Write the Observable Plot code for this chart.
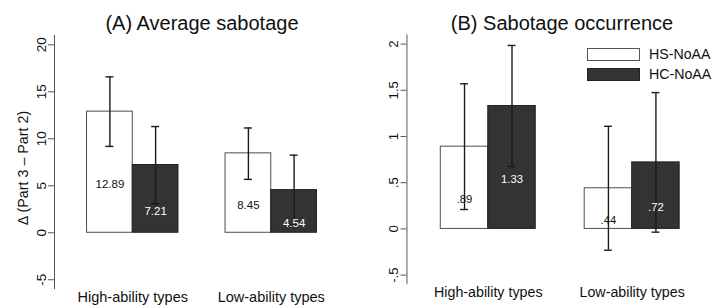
<!DOCTYPE html>
<html><head><meta charset="utf-8">
<script src="https://cdn.jsdelivr.net/npm/d3@7"></script>
<script src="https://cdn.jsdelivr.net/npm/@observablehq/plot@0.6"></script>
<style>
html,body{margin:0;padding:0;background:#fff;overflow:hidden;}
#wrap{position:relative;width:713px;height:307px;overflow:hidden;font-family:"Liberation Sans",Arial,Helvetica,sans-serif;color:#111;}
.panel{position:absolute;top:0;}
.title{position:absolute;top:13px;font-size:20px;line-height:20px;white-space:nowrap;transform:translateX(-50%);}
.ylab{position:absolute;font-size:14.3px;line-height:16px;white-space:nowrap;transform:translate(-50%,-50%) rotate(-90deg);}
.leg{position:absolute;left:587px;width:53px;height:13px;box-sizing:border-box;}
.legt{position:absolute;left:649px;font-size:14.2px;line-height:16px;white-space:nowrap;}
</style></head>
<body><div id="wrap"></div>
<script>
const categories = ["High-ability types", "Low-ability types"];
const series = ["HS-NoAA", "HC-NoAA"];
// order: High/HS, High/HC, Low/HS, Low/HC
const avgMean = [12.89, 7.21, 8.45, 4.54];
const avgLo = [9.19, 3.08, 5.68, 0.82];
const avgHi = [16.59, 11.30, 11.15, 8.26];
const avgLabels = ["12.89", "7.21", "8.45", "4.54"];
const occMean = [0.89, 1.33, 0.44, 0.72];
const occLo = [0.21, 0.675, -0.23, -0.035];
const occHi = [1.57, 1.985, 1.11, 1.475];
const occLabels = [".89", "1.33", ".44", ".72"];
const avgTicks = [-5, 0, 5, 10, 15, 20];
const avgTickLabels = ["-5", "0", "5", "10", "15", "20"];
const occTicks = [-0.5, 0, 0.5, 1, 1.5, 2];
const occTickLabels = ["-.5", "0", ".5", "1", "1.5", "2"];
const titles = ["(A) Average sabotage", "(B) Sabotage occurrence"];
const yLabel = "\u0394 (Part 3 \u2013 Part 2)";

const FONT = '"Liberation Sans", Arial, Helvetica, sans-serif';

function rowsOf(mean, lo, hi, labels) {
  return mean.map((v, i) => ({
    cat: categories[Math.floor(i / 2)], series: series[i % 2],
    value: v, lo: lo[i], hi: hi[i], label: labels[i]
  }));
}

function makePanel({rows, yDomain, ticks, tickLabels, width, marginLeft, marginRight}) {
  const pi = 0.34, po = 0.235, n = categories.length;
  const bw = (width - marginLeft - marginRight) * (1 - pi) / (n - pi + 2 * po);
  const half = bw / 2, q = bw / 4, capIn = bw / 2 - 4;
  const hs = rows.filter(r => r.series === series[0]);
  const hc = rows.filter(r => r.series === series[1]);
  const errMarks = (data, dx) => [
    Plot.ruleX(data, {x: "cat", y1: "lo", y2: "hi", dx, stroke: "#1a1a1a", strokeWidth: 1.4}),
    Plot.tickY(data, {x: "cat", y: "lo", dx, insetLeft: capIn, insetRight: capIn, stroke: "#1a1a1a", strokeWidth: 1.4}),
    Plot.tickY(data, {x: "cat", y: "hi", dx, insetLeft: capIn, insetRight: capIn, stroke: "#1a1a1a", strokeWidth: 1.4})
  ];
  return Plot.plot({
    width, height: 307, marginTop: 35, marginBottom: 19, marginLeft, marginRight,
    style: {fontFamily: FONT, fontSize: "13.5px", background: "transparent", overflow: "visible", color: "#111"},
    x: {domain: categories, paddingInner: pi, paddingOuter: po, round: false, label: null},
    y: {domain: yDomain, label: null},
    marks: [
      Plot.barY(hs, {x: "cat", y: "value", fill: "#ffffff", stroke: "#4d4d4d", strokeWidth: 1, insetRight: half}),
      Plot.barY(hc, {x: "cat", y: "value", fill: "#333333", stroke: "#222222", strokeWidth: 1, insetLeft: half}),
      ...errMarks(hs, -q),
      ...errMarks(hc, q),
      Plot.text(hs, {x: "cat", y: d => d.value / 2, dx: -q, dy: 12, text: "label", fill: "#111", fontSize: 11.5}),
      Plot.text(hc, {x: "cat", y: d => d.value / 2, dx: q, dy: 12, text: "label", fill: "#ffffff", fontSize: 11.5}),
      Plot.frame({anchor: "left", stroke: "#555"}),
      Plot.axisY({ticks, tickFormat: d => tickLabels[ticks.indexOf(d)], tickRotate: -90, tickSize: 6, label: null, fontSize: 13.5, stroke: "#555", fill: "#111"}),
      Plot.axisX({anchor: "bottom", tickSize: 0, tickPadding: 3, label: null, fontSize: 14.5, fill: "#111"})
    ]
  });
}

const wrap = document.getElementById("wrap");
const pA = makePanel({rows: rowsOf(avgMean, avgLo, avgHi, avgLabels), yDomain: [-5.93, 20.99], ticks: avgTicks, tickLabels: avgTickLabels, width: 356, marginLeft: 54, marginRight: 7});
const pB = makePanel({rows: rowsOf(occMean, occLo, occHi, occLabels), yDomain: [-0.593, 2.099], ticks: occTicks, tickLabels: occTickLabels, width: 363, marginLeft: 51.3, marginRight: 0});
const dA = document.createElement("div"); dA.className = "panel"; dA.style.left = "0px"; dA.appendChild(pA);
const dB = document.createElement("div"); dB.className = "panel"; dB.style.left = "356px"; dB.appendChild(pB);
wrap.appendChild(dA); wrap.appendChild(dB);

function addDiv(cls, text, css) {
  const d = document.createElement("div"); d.className = cls; d.textContent = text;
  Object.assign(d.style, css); wrap.appendChild(d); return d;
}
addDiv("title", titles[0], {left: "202px"});
addDiv("title", titles[1], {left: "562px"});
addDiv("ylab", yLabel, {left: "23px", top: "168px"});
addDiv("leg", "", {top: "47.5px", background: "#fff", border: "1px solid #555"});
addDiv("leg", "", {top: "67.5px", background: "#333", border: "1px solid #222"});
addDiv("legt", series[0], {top: "46px"});
addDiv("legt", series[1], {top: "66px"});
</script>
</body></html>
